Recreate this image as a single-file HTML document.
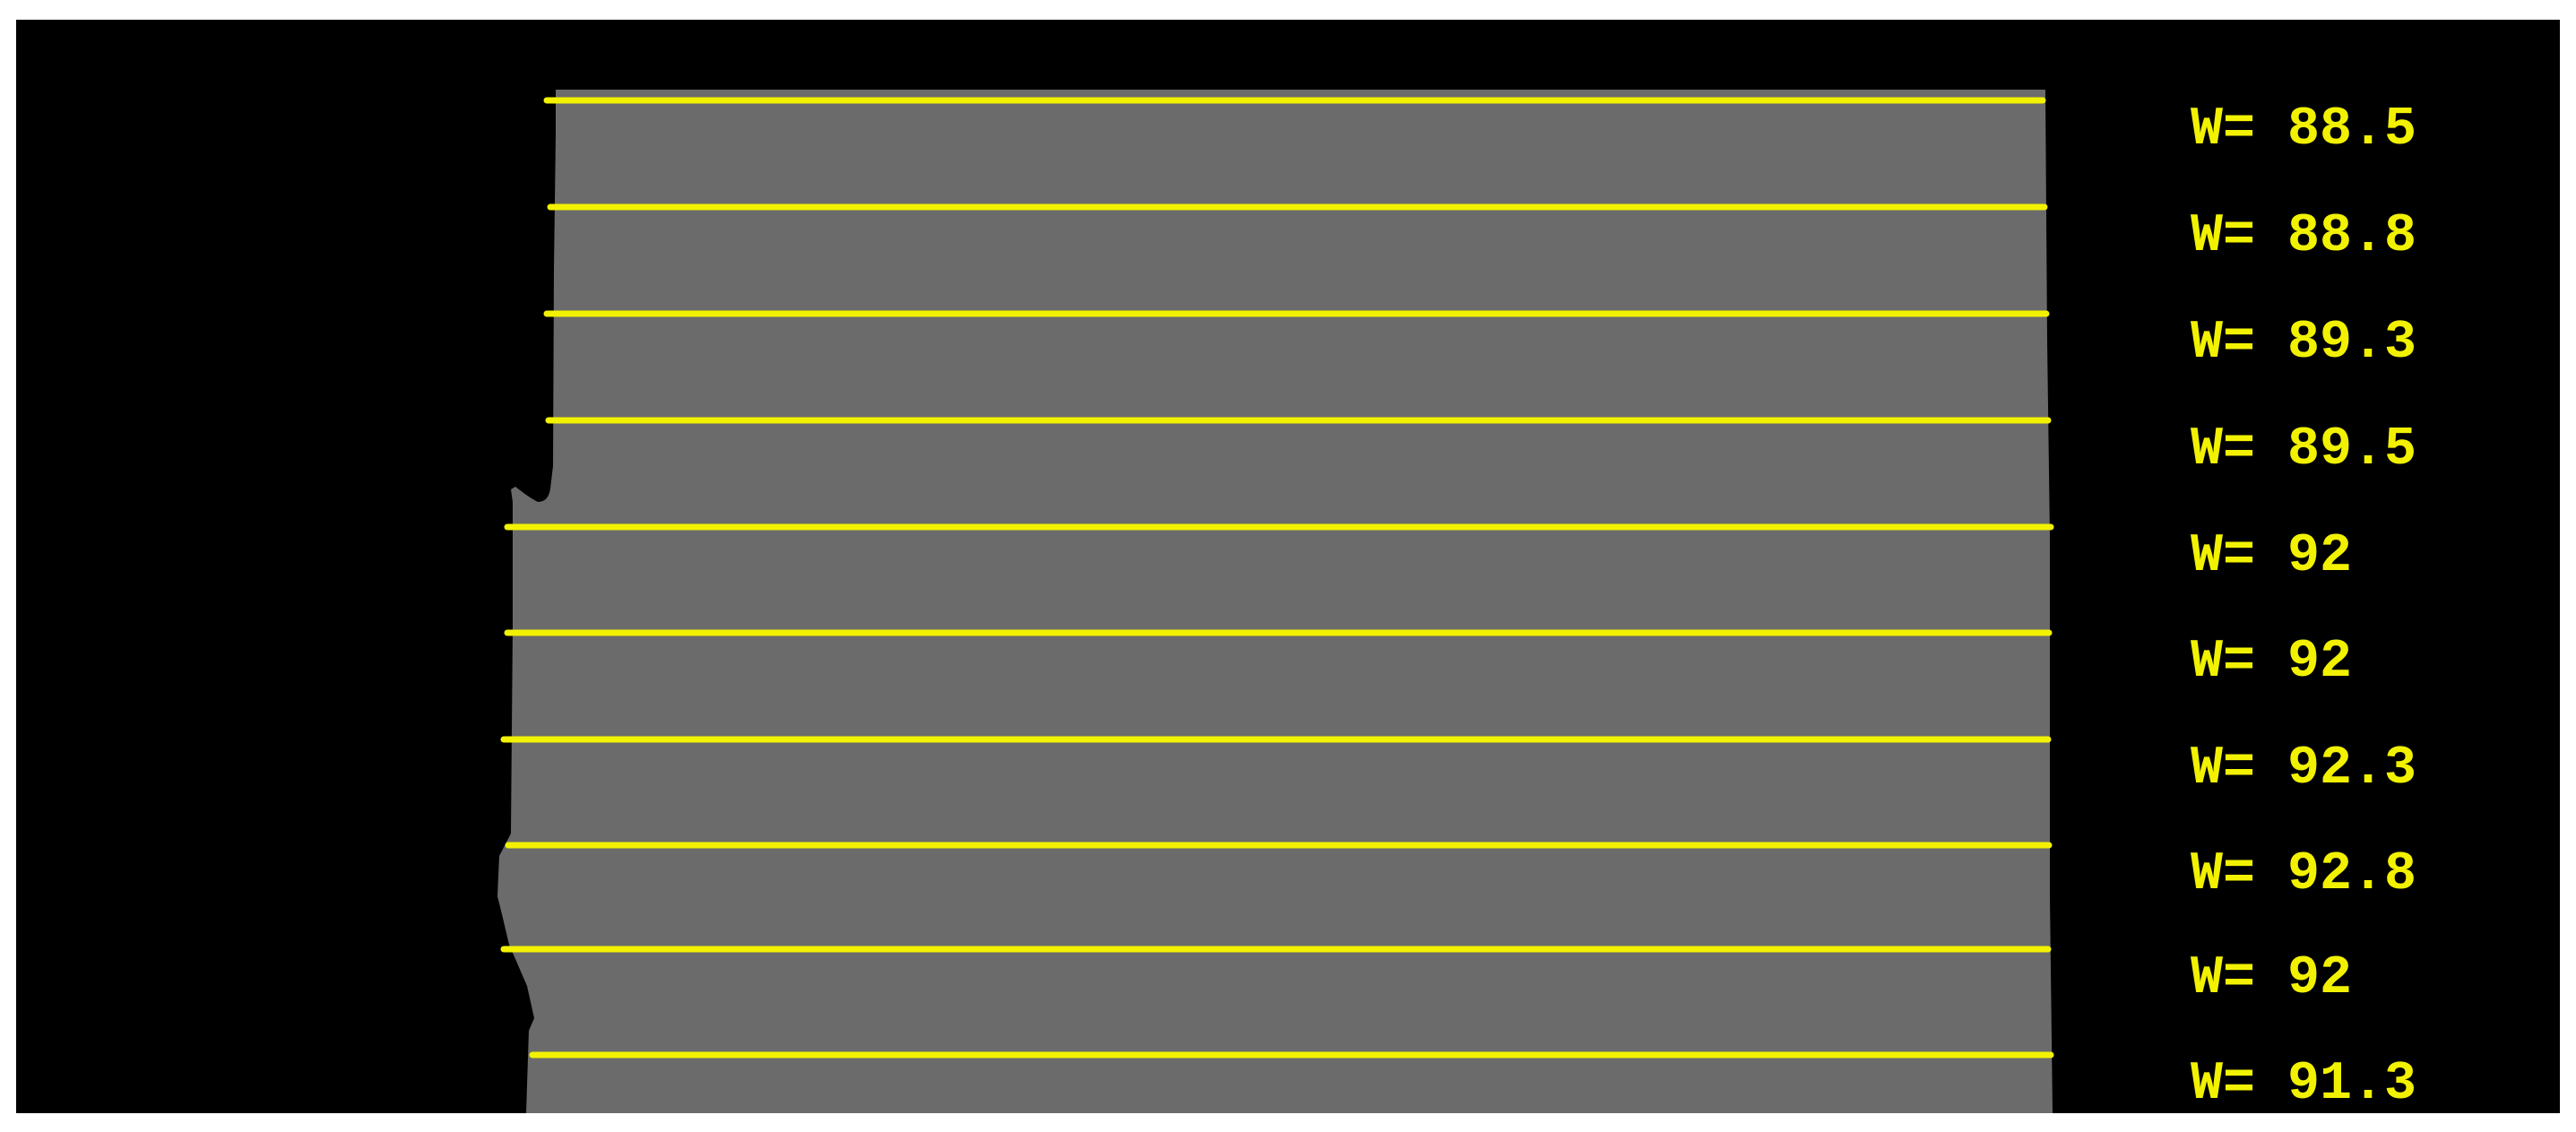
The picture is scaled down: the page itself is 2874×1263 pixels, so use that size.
<!DOCTYPE html>
<html><head><meta charset="utf-8"><style>
html,body{margin:0;padding:0;background:#fff;width:2874px;height:1263px;overflow:hidden}
svg{display:block}
text{font-family:"Liberation Mono","DejaVu Sans Mono",monospace;font-weight:bold;font-size:60px;fill:#f2f200}
</style></head><body>
<svg width="2874" height="1263" viewBox="0 0 2874 1263">
<rect x="0" y="0" width="2874" height="1263" fill="#fff"/>
<rect x="18" y="22" width="2838" height="1220" fill="#000"/>
<path d="M620,100 L2282,100 L2284,380 L2287,600 L2287,1000 L2290,1242 L587,1242 L590,1150 L596,1136 L588,1100 L575,1070 L568,1054 L560,1020 L555,1000 L557,955 L570,930 L572,700 L572,560 L570,546 L575,543 Q590,555 600,560 Q612,560 614,545 L617,520 L618,300 L620,150 Z" fill="#6b6b6b"/>
<g stroke="#f2f200" stroke-width="7" stroke-linecap="round">
<line x1="610" y1="112" x2="2279" y2="112"/>
<line x1="614" y1="231" x2="2281" y2="231"/>
<line x1="610" y1="350" x2="2283" y2="350"/>
<line x1="612" y1="469" x2="2285" y2="469"/>
<line x1="566" y1="588" x2="2288" y2="588"/>
<line x1="566" y1="706" x2="2286" y2="706"/>
<line x1="562" y1="825" x2="2285" y2="825"/>
<line x1="567" y1="943" x2="2286" y2="943"/>
<line x1="562" y1="1059" x2="2285" y2="1059"/>
<line x1="594" y1="1177" x2="2288" y2="1177"/>
</g>
<g>
<text x="2444" y="160">W= 88.5</text>
<text x="2444" y="279">W= 88.8</text>
<text x="2444" y="398">W= 89.3</text>
<text x="2444" y="517">W= 89.5</text>
<text x="2444" y="636">W= 92</text>
<text x="2444" y="754">W= 92</text>
<text x="2444" y="873">W= 92.3</text>
<text x="2444" y="991">W= 92.8</text>
<text x="2444" y="1107">W= 92</text>
<text x="2444" y="1225">W= 91.3</text>
</g>
</svg>
</body></html>
